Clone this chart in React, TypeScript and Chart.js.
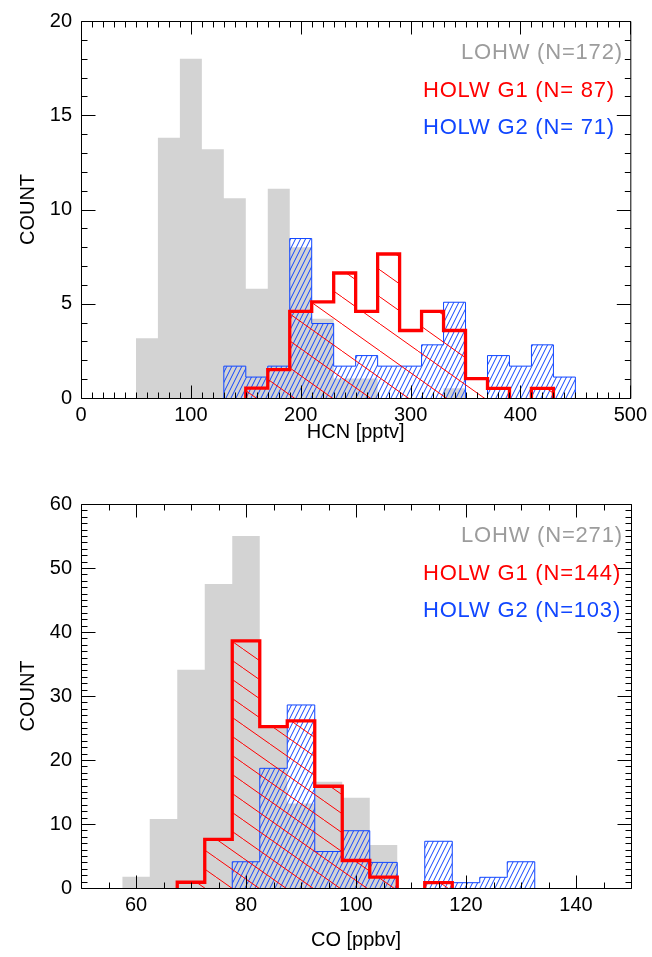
import React, { useEffect, useRef } from 'react';
import { Chart, registerables } from 'chart.js';

Chart.register(...registerables);

// ---------- HCN panel data ----------
const hcnBinEdges = [50, 70, 90, 110, 130, 150, 170, 190, 210, 230, 250, 270, 290, 310, 330, 350, 370, 390, 410, 430, 450];
const hcnLOHW = [3.17, 13.8, 18.0, 13.2, 10.6, 5.8, 11.1, 8.0, 4.2, 1.04, 1.04, 0, 0, 0, 0.52, 0, 0, 0, 0, 0];
const hcnG1 = [0, 0, 0, 0, 0, 0.52, 1.51, 4.6, 5.1, 6.63, 4.6, 7.64, 3.58, 4.6, 3.58, 1.03, 0.51, 0, 0.51, 0];
const hcnG2 = [0, 0, 0, 0, 1.69, 1.11, 1.69, 8.46, 3.95, 1.69, 2.25, 1.69, 1.69, 2.82, 5.08, 0, 2.25, 1.69, 2.82, 1.11];
const hcnXTicks = [0, 100, 200, 300, 400, 500];
const hcnYTicks = [0, 5, 10, 15, 20];
const hcnLegend = ['LOHW (N=172)', 'HOLW G1 (N= 87)', 'HOLW G2 (N= 71)'];

// ---------- CO panel data ----------
const coBinEdges = [57.5, 62.5, 67.5, 72.5, 77.5, 82.5, 87.5, 92.5, 97.5, 102.5, 107.5, 112.5, 117.5, 122.5, 127.5, 132.5];
const coLOHW = [1.77, 10.8, 34.1, 47.5, 55.0, 25.2, 13.2, 16.6, 14.1, 6.7, 0, 0, 0, 0, 0];
const coG1 = [0, 0, 0.9, 7.6, 38.6, 25.2, 26.1, 15.9, 4.3, 1.7, 0, 0.84, 0, 0, 0];
const coG2 = [0, 0, 0, 0, 4.1, 18.7, 28.6, 5.7, 8.95, 4.0, 0, 7.3, 0.83, 1.67, 4.1];
const coXTicks = [60, 80, 100, 120, 140];
const coYTicks = [0, 10, 20, 30, 40, 50, 60];
const coLegend = ['LOHW (N=271)', 'HOLW G1 (N=144)', 'HOLW G2 (N=103)'];

const GRAY_FILL = '#d3d3d3';
const GRAY_TEXT = '#9c9c9c';
const RED = '#ff0000';
const BLUE = '#1046ff';
const FONT = "'Liberation Sans', Arial, Helvetica, sans-serif";
const CLEAR = 'rgba(0,0,0,0)';

// stepped-before outline of a histogram; zero bins get a flat baseline piece (hidden later)
function steps(edges: number[], vals: number[]) {
  const pts: { x: number; y: number }[] = [{ x: edges[0], y: 0 }];
  vals.forEach((v, i) => {
    pts.push({ x: edges[i], y: v });
    if (v === 0) pts.push({ x: edges[i + 1], y: 0 });
  });
  pts.push({ x: edges[edges.length - 1], y: 0 });
  return pts;
}

function makeHatch(ctx: CanvasRenderingContext2D, w: number, h: number, color: string, dir: '/' | '\\', lw: number) {
  const c = document.createElement('canvas');
  c.width = w;
  c.height = h;
  const g = c.getContext('2d')!;
  g.strokeStyle = color;
  g.lineWidth = lw;
  g.beginPath();
  for (let k = -1; k <= 1; k++) {
    if (dir === '/') {
      g.moveTo(k * w, h);
      g.lineTo((k + 1) * w, 0);
    } else {
      g.moveTo(k * w, 0);
      g.lineTo((k + 1) * w, h);
    }
  }
  g.stroke();
  return ctx.createPattern(c, 'repeat')!;
}

interface PanelCfg {
  height: number;
  plotTop: number;
  plotBottom: number;
  xMin: number;
  xMax: number;
  yMax: number;
  xTicks: number[];
  yTicks: number[];
  minorX: number;
  minorY: number;
  edges: number[];
  lohw: number[];
  g1: number[];
  g2: number[];
  legend: string[];
  xTitle: string;
  xTitlePad: number;
  redTile: [number, number];
}

const hideBaseline = {
  borderColor: (c: any) => (c.p0.parsed.y === 0 && c.p1.parsed.y === 0 ? CLEAR : undefined),
};

function createPanel(canvas: HTMLCanvasElement, cfg: PanelCfg) {
  const ctx = canvas.getContext('2d')!;
  const bluePat = makeHatch(ctx, 5, 10, BLUE, '/', 1);
  const redPat = makeHatch(ctx, cfg.redTile[0], cfg.redTile[1], RED, '\\', 1);

  const framePlugin = {
    id: 'frame',
    afterDraw(chart: any) {
      const c = chart.ctx as CanvasRenderingContext2D;
      const { left, right, top, bottom } = chart.chartArea;
      const xs = chart.scales.x;
      const ys = chart.scales.y;
      c.save();
      c.strokeStyle = '#000';
      c.lineWidth = 1;
      c.beginPath();
      c.rect(left + 0.5, top + 0.5, right - left, bottom - top);
      c.stroke();
      const MAJ = 13;
      const MIN = 6;
      c.beginPath();
      for (let v = cfg.xMin; v <= cfg.xMax + 1e-9; v += cfg.minorX) {
        const px = Math.round(xs.getPixelForValue(v)) + 0.5;
        const len = cfg.xTicks.some((t) => Math.abs(t - v) < 1e-6) ? MAJ : MIN;
        c.moveTo(px, bottom + 0.5);
        c.lineTo(px, bottom + 0.5 - len);
        c.moveTo(px, top + 0.5);
        c.lineTo(px, top + 0.5 + len);
      }
      for (let v = 0; v <= cfg.yMax + 1e-9; v += cfg.minorY) {
        const py = Math.round(ys.getPixelForValue(v)) + 0.5;
        const len = cfg.yTicks.some((t) => Math.abs(t - v) < 1e-6) ? MAJ + 1 : MIN;
        c.moveTo(left + 0.5, py);
        c.lineTo(left + 0.5 + len, py);
        c.moveTo(right + 0.5, py);
        c.lineTo(right + 0.5 - len, py);
      }
      c.stroke();
      // legend (left aligned, as in the original annotation)
      const colors = [GRAY_TEXT, RED, BLUE];
      const starts = [left + 380, left + 342, left + 342];
      c.font = `22px ${FONT}`;
      (c as any).letterSpacing = '0.8px';
      c.textAlign = 'left';
      c.textBaseline = 'alphabetic';
      cfg.legend.forEach((t, i) => {
        c.fillStyle = colors[i];
        c.fillText(t, starts[i], top + 38 + i * 37.5);
      });
      c.restore();
    },
  };

  return new Chart(canvas, {
    type: 'line',
    data: {
      datasets: [
        {
          label: 'HOLW G1',
          data: steps(cfg.edges, cfg.g1),
          stepped: true,
          borderColor: RED,
          borderWidth: 3.3,
          backgroundColor: redPat,
          fill: 'origin',
          pointRadius: 0,
          borderJoinStyle: 'miter',
          segment: hideBaseline,
          order: 0,
        },
        {
          label: 'HOLW G2',
          data: steps(cfg.edges, cfg.g2),
          stepped: true,
          borderColor: BLUE,
          borderWidth: 1,
          backgroundColor: bluePat,
          fill: 'origin',
          pointRadius: 0,
          borderJoinStyle: 'miter',
          segment: hideBaseline,
          order: 1,
        },
        {
          label: 'LOHW',
          data: steps(cfg.edges, cfg.lohw),
          stepped: true,
          borderColor: CLEAR,
          borderWidth: 0,
          backgroundColor: GRAY_FILL,
          fill: 'origin',
          pointRadius: 0,
          order: 2,
        },
      ] as any,
    },
    options: {
      animation: false,
      responsive: false,
      devicePixelRatio: 1,
      events: [],
      layout: { padding: { left: 0, right: 21, top: cfg.plotTop, bottom: 0 } },
      plugins: { legend: { display: false }, tooltip: { enabled: false } },
      scales: {
        x: {
          type: 'linear',
          min: cfg.xMin,
          max: cfg.xMax,
          grid: { display: false, drawTicks: false },
          border: { display: false },
          afterBuildTicks: (s: any) => {
            s.ticks = cfg.xTicks.map((v) => ({ value: v }));
          },
          afterFit: (s: any) => {
            s.height = cfg.height - cfg.plotBottom;
          },
          ticks: {
            padding: 5,
            maxRotation: 0,
            autoSkip: false,
            color: '#000',
            font: { family: FONT, size: 20 },
          },
          title: {
            display: true,
            text: cfg.xTitle,
            color: '#000',
            font: { family: FONT, size: 20 },
            padding: { top: 0, bottom: cfg.xTitlePad },
          },
        },
        y: {
          type: 'linear',
          min: 0,
          max: cfg.yMax,
          grid: { display: false, drawTicks: false },
          border: { display: false },
          afterBuildTicks: (s: any) => {
            s.ticks = cfg.yTicks.map((v) => ({ value: v }));
          },
          afterFit: (s: any) => {
            s.width = 81;
          },
          ticks: {
            padding: 9,
            autoSkip: false,
            color: '#000',
            font: { family: FONT, size: 20 },
          },
          title: {
            display: true,
            text: 'COUNT',
            color: '#000',
            font: { family: FONT, size: 20 },
            padding: { top: 16, bottom: 0 },
          },
        },
      },
    } as any,
    plugins: [framePlugin],
  });
}

export default function App() {
  const topRef = useRef<HTMLCanvasElement>(null);
  const botRef = useRef<HTMLCanvasElement>(null);

  useEffect(() => {
    const c1 = createPanel(topRef.current!, {
      height: 478,
      plotTop: 15,
      plotBottom: 398,
      xMin: 0,
      xMax: 500,
      yMax: 20,
      xTicks: hcnXTicks,
      yTicks: hcnYTicks,
      minorX: 10,
      minorY: 1,
      edges: hcnBinEdges,
      lohw: hcnLOHW,
      g1: hcnG1,
      g2: hcnG2,
      legend: hcnLegend,
      xTitle: 'HCN [pptv]',
      xTitlePad: 34,
      redTile: [38, 27],
    });
    const c2 = createPanel(botRef.current!, {
      height: 479,
      plotTop: 26,
      plotBottom: 410,
      xMin: 50,
      xMax: 150,
      yMax: 60,
      xTicks: coXTicks,
      yTicks: coYTicks,
      minorX: 5,
      minorY: 1,
      edges: coBinEdges,
      lohw: coLOHW,
      g1: coG1,
      g2: coG2,
      legend: coLegend,
      xTitle: 'CO [ppbv]',
      xTitlePad: 5,
      redTile: [27, 19],
    });
    return () => {
      c1.destroy();
      c2.destroy();
    };
  }, []);

  return (
    <div style={{ position: 'absolute', left: 0, top: 0, width: 652, height: 957, background: '#fff' }}>
      <canvas ref={topRef} width={652} height={478} style={{ position: 'absolute', left: 0, top: 0, width: 652, height: 478 }} />
      <canvas ref={botRef} width={652} height={479} style={{ position: 'absolute', left: 0, top: 478, width: 652, height: 479 }} />
    </div>
  );
}
